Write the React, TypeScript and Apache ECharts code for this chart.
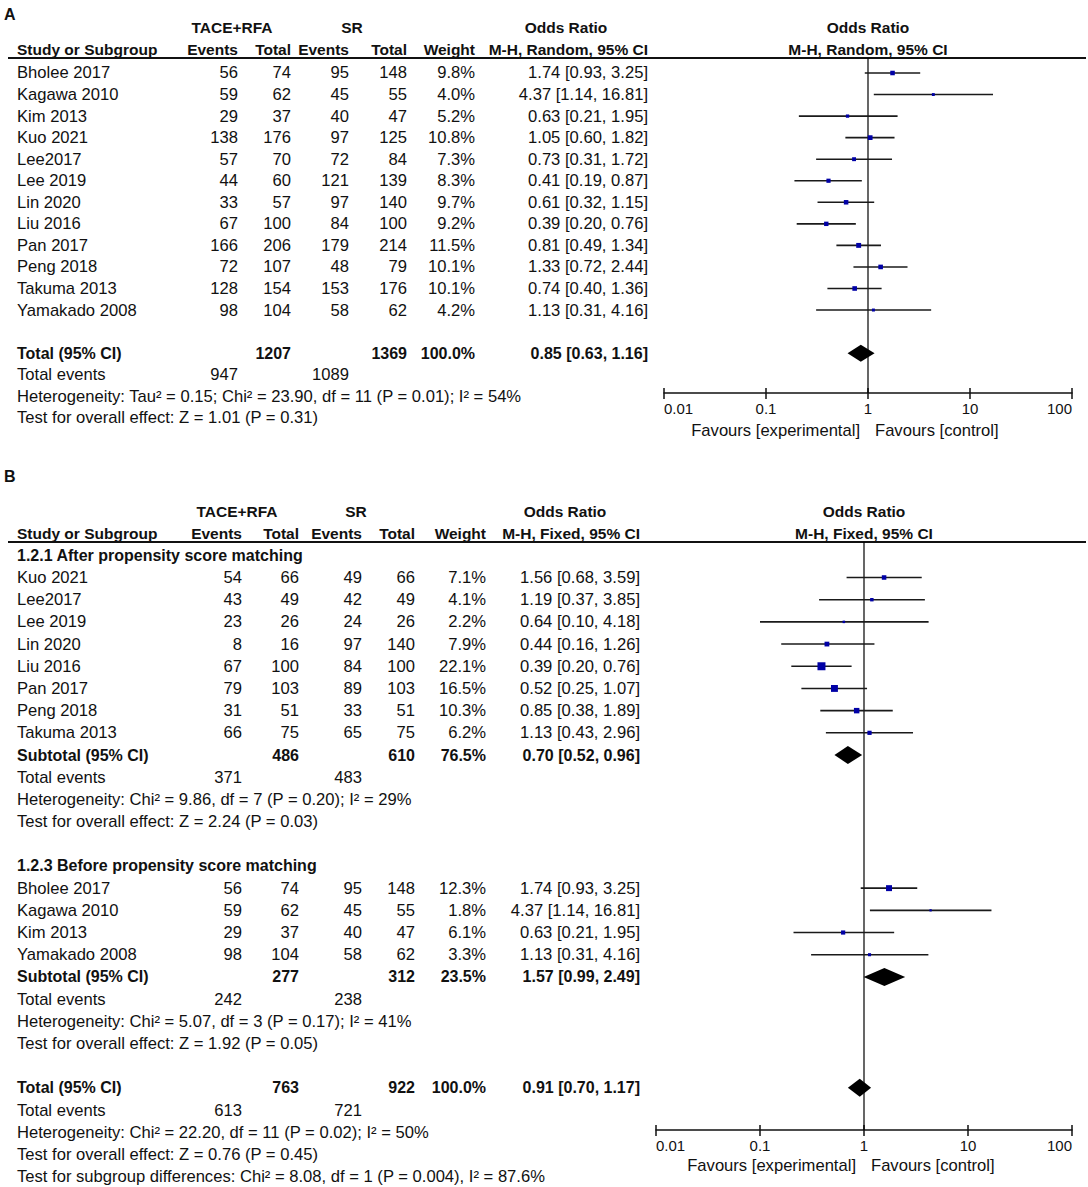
import React, { useEffect, useRef } from "react";
import * as echarts from "echarts";

// ---------------- Panel A (random effects) ----------------
const studiesA = ["Bholee 2017", "Kagawa 2010", "Kim 2013", "Kuo 2021", "Lee2017", "Lee 2019", "Lin 2020", "Liu 2016", "Pan 2017", "Peng 2018", "Takuma 2013", "Yamakado 2008"];
const expEventsA = [56, 59, 29, 138, 57, 44, 33, 67, 166, 72, 128, 98];
const expTotalA = [74, 62, 37, 176, 70, 60, 57, 100, 206, 107, 154, 104];
const ctlEventsA = [95, 45, 40, 97, 72, 121, 97, 84, 179, 48, 153, 58];
const ctlTotalA = [148, 55, 47, 125, 84, 139, 140, 100, 214, 79, 176, 62];
const weightA = [9.8, 4.0, 5.2, 10.8, 7.3, 8.3, 9.7, 9.2, 11.5, 10.1, 10.1, 4.2];
const orA = [1.74, 4.37, 0.63, 1.05, 0.73, 0.41, 0.61, 0.39, 0.81, 1.33, 0.74, 1.13];
const lowA = [0.93, 1.14, 0.21, 0.6, 0.31, 0.19, 0.32, 0.2, 0.49, 0.72, 0.4, 0.31];
const highA = [3.25, 16.81, 1.95, 1.82, 1.72, 0.87, 1.15, 0.76, 1.34, 2.44, 1.36, 4.16];
const totalNA = [1207, 1369];
const totalEventsA = [947, 1089];
const pooledA = [0.85, 0.63, 1.16];
const statsA = [
  "Heterogeneity: Tau\u00b2 = 0.15; Chi\u00b2 = 23.90, df = 11 (P = 0.01); I\u00b2 = 54%",
  "Test for overall effect: Z = 1.01 (P = 0.31)",
];

// ---------------- Panel B (fixed effects, subgroups) ----------------
const subgroupTitlesB = ["1.2.1 After propensity score matching", "1.2.3 Before propensity score matching"];
const studiesB1 = ["Kuo 2021", "Lee2017", "Lee 2019", "Lin 2020", "Liu 2016", "Pan 2017", "Peng 2018", "Takuma 2013"];
const expEventsB1 = [54, 43, 23, 8, 67, 79, 31, 66];
const expTotalB1 = [66, 49, 26, 16, 100, 103, 51, 75];
const ctlEventsB1 = [49, 42, 24, 97, 84, 89, 33, 65];
const ctlTotalB1 = [66, 49, 26, 140, 100, 103, 51, 75];
const weightB1 = [7.1, 4.1, 2.2, 7.9, 22.1, 16.5, 10.3, 6.2];
const orB1 = [1.56, 1.19, 0.64, 0.44, 0.39, 0.52, 0.85, 1.13];
const lowB1 = [0.68, 0.37, 0.1, 0.16, 0.2, 0.25, 0.38, 0.43];
const highB1 = [3.59, 3.85, 4.18, 1.26, 0.76, 1.07, 1.89, 2.96];
const subtotalNB1 = [486, 610];
const subtotalWB1 = 76.5;
const pooledB1 = [0.7, 0.52, 0.96];
const eventsB1 = [371, 483];
const statsB1 = [
  "Heterogeneity: Chi\u00b2 = 9.86, df = 7 (P = 0.20); I\u00b2 = 29%",
  "Test for overall effect: Z = 2.24 (P = 0.03)",
];

const studiesB2 = ["Bholee 2017", "Kagawa 2010", "Kim 2013", "Yamakado 2008"];
const expEventsB2 = [56, 59, 29, 98];
const expTotalB2 = [74, 62, 37, 104];
const ctlEventsB2 = [95, 45, 40, 58];
const ctlTotalB2 = [148, 55, 47, 62];
const weightB2 = [12.3, 1.8, 6.1, 3.3];
const orB2 = [1.74, 4.37, 0.63, 1.13];
const lowB2 = [0.93, 1.14, 0.21, 0.31];
const highB2 = [3.25, 16.81, 1.95, 4.16];
const subtotalNB2 = [277, 312];
const subtotalWB2 = 23.5;
const pooledB2 = [1.57, 0.99, 2.49];
const eventsB2 = [242, 238];
const statsB2 = [
  "Heterogeneity: Chi\u00b2 = 5.07, df = 3 (P = 0.17); I\u00b2 = 41%",
  "Test for overall effect: Z = 1.92 (P = 0.05)",
];

const totalNB = [763, 922];
const pooledB = [0.91, 0.7, 1.17];
const totalEventsB = [613, 721];
const statsB = [
  "Heterogeneity: Chi\u00b2 = 22.20, df = 11 (P = 0.02); I\u00b2 = 50%",
  "Test for overall effect: Z = 0.76 (P = 0.45)",
  "Test for subgroup differences: Chi\u00b2 = 8.08, df = 1 (P = 0.004), I\u00b2 = 87.6%",
];

const xTickLabels = ["0.01", "0.1", "1", "10", "100"];
const favourLabels = ["Favours [experimental]", "Favours [control]"];

// ---------------- layout ----------------
const FONT = '"Liberation Sans", Arial, Helvetica, sans-serif';
const TXT = "#111";
const FS_REG = 16.6;
const FS_BOLD = 16;
const FS_HEAD = 15.5;
const colA = { label: 17, e1: 238, t1: 291, e2: 349, t2: 407, w: 475, ci: 648, grp1: 232, grp2: 352, orc: 566 };
const colB = { label: 17, e1: 242, t1: 299, e2: 362, t2: 415, w: 486, ci: 640, grp1: 237, grp2: 356, orc: 565 };
const plotA = { left: 664, width: 408, top: 58, height: 335 };
const plotB = { left: 656, width: 416, top: 542, height: 588 };
// panel A: row r sits at y = 73 + 21.55 r ; panel B: y = 555 + 22.2 r
const yRangeA = [-0.696, 14.85];
const yRangeB = [-0.6, 25.9];

type Cell = { t: string; x?: number; xv?: number; dx?: number; a: "left" | "right" | "center"; b?: boolean; fs?: number };
type TRow = { r: number; cells: Cell[] };

const fmtCI = (e: number, l: number, h: number) => `${e.toFixed(2)} [${l.toFixed(2)}, ${h.toFixed(2)}]`;
const fmtW = (w: number) => `${w.toFixed(1)}%`;

function dataRow(col: any, r: number, label: string, vals: (string | number | null)[], bold = false): TRow {
  const keys = ["e1", "t1", "e2", "t2", "w", "ci"];
  const cells: Cell[] = [{ t: label, x: col.label, a: "left", b: bold }];
  vals.forEach((v, i) => {
    if (v !== null && v !== "") cells.push({ t: String(v), x: col[keys[i]], a: "right", b: bold });
  });
  return { r, cells };
}

function headerRows(col: any, r1: number, r2: number, method: string): TRow[] {
  const h = (t: string, a: any, x?: number, xv?: number): Cell => ({ t, a, x, xv, b: true, fs: FS_HEAD });
  return [
    {
      r: r1,
      cells: [h("TACE+RFA", "center", col.grp1), h("SR", "center", col.grp2), h("Odds Ratio", "center", col.orc), h("Odds Ratio", "center", undefined, 1)],
    },
    {
      r: r2,
      cells: [
        h("Study or Subgroup", "left", col.label),
        h("Events", "right", col.e1),
        h("Total", "right", col.t1),
        h("Events", "right", col.e2),
        h("Total", "right", col.t2),
        h("Weight", "right", col.w),
        h(method, "right", col.ci),
        h(method, "center", undefined, 1),
      ],
    },
  ];
}

function favourRow(r: number): TRow {
  return {
    r,
    cells: [
      { t: favourLabels[0], xv: 1, dx: -8, a: "right" },
      { t: favourLabels[1], xv: 1, dx: 7, a: "left" },
    ],
  };
}

// build table rows A
const rowsA: TRow[] = [...headerRows(colA, -2.09, -1.11, "M-H, Random, 95% CI")];
studiesA.forEach((s, i) =>
  rowsA.push(dataRow(colA, i, s, [expEventsA[i], expTotalA[i], ctlEventsA[i], ctlTotalA[i], fmtW(weightA[i]), fmtCI(orA[i], lowA[i], highA[i])]))
);
rowsA.push(dataRow(colA, 13, "Total (95% CI)", [null, totalNA[0], null, totalNA[1], "100.0%", fmtCI(pooledA[0], pooledA[1], pooledA[2])], true));
rowsA.push(dataRow(colA, 14, "Total events", [totalEventsA[0], null, totalEventsA[1], null, null, null]));
rowsA.push(dataRow(colA, 15, statsA[0], []));
rowsA.push(dataRow(colA, 16, statsA[1], []));
rowsA.push(favourRow(16.57));

// build table rows B
const rowsB: TRow[] = [...headerRows(colB, -1.98, -0.99, "M-H, Fixed, 95% CI")];
rowsB.push(dataRow(colB, 0, subgroupTitlesB[0], [], true));
studiesB1.forEach((s, i) =>
  rowsB.push(dataRow(colB, 1 + i, s, [expEventsB1[i], expTotalB1[i], ctlEventsB1[i], ctlTotalB1[i], fmtW(weightB1[i]), fmtCI(orB1[i], lowB1[i], highB1[i])]))
);
rowsB.push(dataRow(colB, 9, "Subtotal (95% CI)", [null, subtotalNB1[0], null, subtotalNB1[1], fmtW(subtotalWB1), fmtCI(pooledB1[0], pooledB1[1], pooledB1[2])], true));
rowsB.push(dataRow(colB, 10, "Total events", [eventsB1[0], null, eventsB1[1], null, null, null]));
rowsB.push(dataRow(colB, 11, statsB1[0], []));
rowsB.push(dataRow(colB, 12, statsB1[1], []));
rowsB.push(dataRow(colB, 14, subgroupTitlesB[1], [], true));
studiesB2.forEach((s, i) =>
  rowsB.push(dataRow(colB, 15 + i, s, [expEventsB2[i], expTotalB2[i], ctlEventsB2[i], ctlTotalB2[i], fmtW(weightB2[i]), fmtCI(orB2[i], lowB2[i], highB2[i])]))
);
rowsB.push(dataRow(colB, 19, "Subtotal (95% CI)", [null, subtotalNB2[0], null, subtotalNB2[1], fmtW(subtotalWB2), fmtCI(pooledB2[0], pooledB2[1], pooledB2[2])], true));
rowsB.push(dataRow(colB, 20, "Total events", [eventsB2[0], null, eventsB2[1], null, null, null]));
rowsB.push(dataRow(colB, 21, statsB2[0], []));
rowsB.push(dataRow(colB, 22, statsB2[1], []));
rowsB.push(dataRow(colB, 24, "Total (95% CI)", [null, totalNB[0], null, totalNB[1], "100.0%", fmtCI(pooledB[0], pooledB[1], pooledB[2])], true));
rowsB.push(dataRow(colB, 25, "Total events", [totalEventsB[0], null, totalEventsB[1], null, null, null]));
rowsB.push(dataRow(colB, 26, statsB[0], []));
rowsB.push(dataRow(colB, 27, statsB[1], []));
rowsB.push(dataRow(colB, 28, statsB[2], []));
rowsB.push(favourRow(27.52));

// forest data
const forestA = studiesA.map((_, i) => [orA[i], i, lowA[i], highA[i], weightA[i]]);
const forestB = [
  ...studiesB1.map((_, i) => [orB1[i], 1 + i, lowB1[i], highB1[i], weightB1[i]]),
  ...studiesB2.map((_, i) => [orB2[i], 15 + i, lowB2[i], highB2[i], weightB2[i]]),
];
const diamondsA = [[pooledA[0], 13, pooledA[1], pooledA[2]]];
const diamondsB = [
  [pooledB1[0], 9, pooledB1[1], pooledB1[2]],
  [pooledB2[0], 19, pooledB2[1], pooledB2[2]],
  [pooledB[0], 24, pooledB[1], pooledB[2]],
];

function textRender(rows: TRow[]) {
  return (params: any, api: any) => {
    const row = rows[params.dataIndex];
    const y = api.coord([1, row.r])[1];
    return {
      type: "group",
      children: row.cells.map((c) => ({
        type: "text",
        style: {
          text: c.t,
          x: c.xv != null ? api.coord([c.xv, row.r])[0] + (c.dx || 0) : c.x,
          y,
          align: c.a,
          verticalAlign: "middle",
          font: `${c.b ? "bold " : ""}${c.fs ?? (c.b ? FS_BOLD : FS_REG)}px ${FONT}`,
          fill: TXT,
        },
      })),
    };
  };
}

function forestRender(k: number) {
  return (params: any, api: any) => {
    const est = api.value(0), r = api.value(1), lo = api.value(2), hi = api.value(3), w = api.value(4);
    const p = api.coord([est, r]);
    const pl = api.coord([lo, r]);
    const ph = api.coord([hi, r]);
    const s = Math.max(2, k * Math.sqrt(w));
    return {
      type: "group",
      children: [
        { type: "line", shape: { x1: pl[0], y1: p[1], x2: ph[0], y2: p[1] }, style: { stroke: "#1a1a1a", lineWidth: 1.6 } },
        { type: "rect", shape: { x: p[0] - s / 2, y: p[1] - s / 2, width: s, height: s }, style: { fill: "#0000a6" } },
      ],
    };
  };
}

function diamondRender(hh: number) {
  return (params: any, api: any) => {
    const est = api.value(0), r = api.value(1), lo = api.value(2), hi = api.value(3);
    const c = api.coord([est, r]);
    const l = api.coord([lo, r]);
    const h = api.coord([hi, r]);
    return {
      type: "polygon",
      shape: { points: [[l[0], c[1]], [c[0], c[1] - hh], [h[0], c[1]], [c[0], c[1] + hh]] },
      style: { fill: "#000" },
    };
  };
}

const logCommon = { type: "log", min: 0.01, max: 100, logBase: 10, position: "bottom", splitLine: { show: false }, minorTick: { show: false } };

function mainXAxis(gridIndex: number) {
  return {
    ...logCommon,
    gridIndex,
    axisLine: { show: true, onZero: false, lineStyle: { color: "#111", width: 1.5 } },
    axisTick: { show: true, inside: false, length: 6, lineStyle: { color: "#111", width: 1.5 } },
    axisLabel: {
      show: true,
      margin: 8,
      color: TXT,
      fontSize: 15,
      fontFamily: FONT,
      showMinLabel: true,
      showMaxLabel: true,
      alignMinLabel: "left",
      alignMaxLabel: "right",
      formatter: (v: number) => xTickLabels[Math.round(Math.log10(v)) + 2] ?? "",
    },
  };
}

function innerTickAxis(gridIndex: number) {
  return {
    ...logCommon,
    gridIndex,
    axisLine: { show: false },
    axisTick: { show: true, inside: true, length: 5, lineStyle: { color: "#111", width: 1.5 } },
    axisLabel: { show: false },
  };
}

function panelSeries(idx: number, rows: TRow[], forest: number[][], diamonds: number[][], yr: number[], k: number, hh: number) {
  const ax = { xAxisIndex: idx, yAxisIndex: idx };
  return [
    {
      type: "line",
      ...ax,
      data: [[1, yr[0]], [1, yr[1]]],
      symbol: "none",
      silent: true,
      lineStyle: { color: "#000", width: 1.2 },
      z: 1,
    },
    {
      type: "custom",
      ...ax,
      renderItem: textRender(rows),
      data: rows.map((r) => [1, r.r]),
      encode: { x: 0, y: 1 },
      silent: true,
      z: 3,
    },
    {
      type: "custom",
      ...ax,
      renderItem: forestRender(k),
      data: forest,
      encode: { x: 0, y: 1 },
      silent: true,
      z: 2,
    },
    {
      type: "custom",
      ...ax,
      renderItem: diamondRender(hh),
      data: diamonds,
      encode: { x: 0, y: 1 },
      silent: true,
      z: 2,
    },
  ];
}

export default function App() {
  const ref = useRef<HTMLDivElement>(null);
  useEffect(() => {
    if (!ref.current) return;
    const chart = echarts.init(ref.current, undefined, { renderer: "svg" });
    const option: any = {
      animation: false,
      backgroundColor: "#fff",
      grid: [
        { ...plotA },
        { ...plotB },
        // thin strips just above each axis line to carry the upward half of the ticks
        { left: plotA.left, width: plotA.width, top: plotA.top + plotA.height - 8, height: 8 },
        { left: plotB.left, width: plotB.width, top: plotB.top + plotB.height - 8, height: 8 },
      ],
      xAxis: [mainXAxis(0), mainXAxis(1), innerTickAxis(2), innerTickAxis(3)],
      yAxis: [
        { type: "value", gridIndex: 0, inverse: true, min: yRangeA[0], max: yRangeA[1], show: false },
        { type: "value", gridIndex: 1, inverse: true, min: yRangeB[0], max: yRangeB[1], show: false },
        { type: "value", gridIndex: 2, min: 0, max: 1, show: false },
        { type: "value", gridIndex: 3, min: 0, max: 1, show: false },
      ],
      graphic: [
        { type: "text", left: 4, top: 6, style: { text: "A", font: `bold 16px ${FONT}`, fill: TXT } },
        { type: "text", left: 4, top: 468, style: { text: "B", font: `bold 16px ${FONT}`, fill: TXT } },
        { type: "line", shape: { x1: 8, y1: plotA.top, x2: 1086, y2: plotA.top }, style: { stroke: "#111", lineWidth: 2 } },
        { type: "line", shape: { x1: 8, y1: plotB.top, x2: 1086, y2: plotB.top }, style: { stroke: "#111", lineWidth: 2 } },
      ],
      series: [
        ...panelSeries(0, rowsA, forestA, diamondsA, yRangeA, 1.45, 8.5),
        ...panelSeries(1, rowsB, forestB, diamondsB, yRangeB, 1.7, 9),
      ],
    };
    chart.setOption(option);
    return () => chart.dispose();
  }, []);
  return <div ref={ref} style={{ position: "absolute", left: 0, top: 0, width: 1088, height: 1187, background: "#fff" }} />;
}
